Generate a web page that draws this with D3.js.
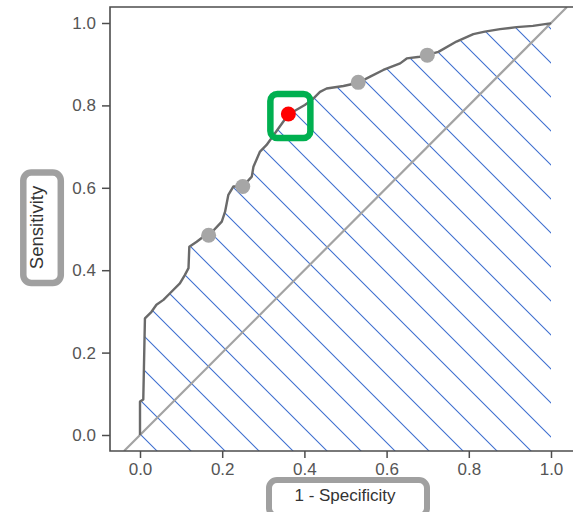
<!DOCTYPE html>
<html>
<head>
<meta charset="utf-8">
<script src="https://cdn.jsdelivr.net/npm/d3@7"></script>
<style>
    body { margin: 0; background: #fff; }
    svg { display: block; font-family: "Liberation Sans", Arial, sans-serif; }
</style>
</head>
<body>
<div id="chart"></div>
<script>
// ROC curve
var fpr = [0, 0, 0.008, 0.012, 0.028, 0.040, 0.057, 0.073, 0.097, 0.109, 0.118, 0.120, 0.138, 0.154, 0.169,
    0.199, 0.207, 0.215, 0.227, 0.250, 0.272, 0.276, 0.292, 0.308, 0.361, 0.401, 0.418, 0.438, 0.454,
    0.495, 0.531, 0.560, 0.592, 0.633, 0.649, 0.681, 0.697, 0.726, 0.770, 0.811, 0.839, 0.876, 0.916,
    0.956, 0.998, 1];
var tpr = [0, 0.081, 0.086, 0.283, 0.299, 0.316, 0.328, 0.344, 0.368, 0.388, 0.405, 0.457, 0.469, 0.481, 0.486,
    0.518, 0.542, 0.583, 0.603, 0.603, 0.627, 0.651, 0.688, 0.704, 0.778, 0.801, 0.813, 0.833, 0.841,
    0.847, 0.855, 0.870, 0.886, 0.902, 0.914, 0.918, 0.922, 0.930, 0.955, 0.973, 0.979, 0.985, 0.990,
    0.993, 0.999, 1];

// marked cut-off points
var pointX = [0.167, 0.250, 0.531, 0.699];
var pointY = [0.485, 0.603, 0.856, 0.922];
var bestX = 0.361;
var bestY = 0.779;

var xTicks = [0, 0.2, 0.4, 0.6, 0.8, 1.0];
var yTicks = [0, 0.2, 0.4, 0.6, 0.8, 1.0];

var width = 573,
    height = 512,
    frameLeft = 110,
    frameTop = 7,
    frameBottom = 451,
    frameRight = 620;

var x = d3.scaleLinear().domain([0, 1]).range([140, 551]);
var y = d3.scaleLinear().domain([0, 1]).range([435, 23]);

var yMin = y.invert(frameBottom),
    yMax = y.invert(frameTop);

var curve = fpr.map(function (d, i) {
    return [d, tpr[i]];
});

var svg = d3.select("#chart").append("svg")
    .attr("width", width)
    .attr("height", height);

var defs = svg.append("defs");

defs.append("clipPath")
    .attr("id", "plotClip")
    .append("rect")
    .attr("x", frameLeft)
    .attr("y", frameTop)
    .attr("width", frameRight - frameLeft)
    .attr("height", frameBottom - frameTop);

// area under the curve, closed down to the x axis line
var areaPts = curve.concat([[1, yMin], [0, yMin]]);
defs.append("clipPath")
    .attr("id", "aucClip")
    .append("path")
    .attr("d", d3.line()
        .x(function (d) { return x(d[0]); })
        .y(function (d) { return y(d[1]); })(areaPts) + "Z");

// diagonal hatching
var hatch = defs.append("pattern")
    .attr("id", "hatch")
    .attr("patternUnits", "userSpaceOnUse")
    .attr("x", 0)
    .attr("y", 22)
    .attr("width", 34)
    .attr("height", 34);
hatch.append("path")
    .attr("d", "M-2,-2L36,36M-2,32L2,36M32,-2L36,2")
    .attr("stroke", "#3f6fd0")
    .attr("stroke-width", 1.1)
    .attr("fill", "none");

var plot = svg.append("g")
    .attr("clip-path", "url(#plotClip)");

plot.append("rect")
    .attr("clip-path", "url(#aucClip)")
    .attr("x", frameLeft)
    .attr("y", frameTop)
    .attr("width", frameRight - frameLeft)
    .attr("height", frameBottom - frameTop)
    .attr("fill", "url(#hatch)");

//reference diagonal
plot.append("line")
    .attr("x1", x(yMin))
    .attr("y1", y(yMin))
    .attr("x2", x(yMax))
    .attr("y2", y(yMax))
    .attr("stroke", "#a3a3a3")
    .attr("stroke-width", 2.2);

//roc curve
plot.append("path")
    .datum(curve)
    .attr("d", d3.line()
        .x(function (d) { return x(d[0]); })
        .y(function (d) { return y(d[1]); }))
    .attr("fill", "none")
    .attr("stroke", "#6a6a6a")
    .attr("stroke-width", 2.4)
    .attr("stroke-linejoin", "round");

// frame: left, top and bottom
svg.append("path")
    .attr("d", "M" + frameRight + "," + frameTop + "H" + frameLeft + "V" + frameBottom + "H" + frameRight)
    .attr("fill", "none")
    .attr("stroke", "#4d4d4d")
    .attr("stroke-width", 1.6);

// axes
var xAxis = d3.axisBottom(x)
    .tickValues(xTicks)
    .tickSize(7)
    .tickPadding(5)
    .tickFormat(d3.format(".1f"));
var yAxis = d3.axisLeft(y)
    .tickValues(yTicks)
    .tickSize(8)
    .tickPadding(6)
    .tickFormat(d3.format(".1f"));

var gx = svg.append("g")
    .attr("transform", "translate(0," + frameBottom + ")")
    .call(xAxis);
var gy = svg.append("g")
    .attr("transform", "translate(" + frameLeft + ",0)")
    .call(yAxis);

[gx, gy].forEach(function (g) {
    g.select(".domain").remove();
    g.selectAll(".tick line")
        .attr("stroke", "#4d4d4d")
        .attr("stroke-width", 1.5);
    g.selectAll(".tick text")
        .attr("fill", "#555")
        .attr("font-size", "17px")
        .attr("font-family", "Liberation Sans, Arial, sans-serif");
});

//cut-off points
svg.selectAll(".cutPoint")
    .data(pointX)
    .enter()
    .append("circle")
    .attr("class", "cutPoint")
    .attr("cx", function (d) { return x(d); })
    .attr("cy", function (d, i) { return y(pointY[i]); })
    .attr("r", 7.5)
    .attr("fill", "#a6a6a6");

svg.append("circle")
    .attr("cx", x(bestX))
    .attr("cy", y(bestY))
    .attr("r", 7.5)
    .attr("fill", "#ff0000");

// green highlight box around the best point
svg.append("rect")
    .attr("x", x(bestX) - 18)
    .attr("y", y(bestY) - 20)
    .attr("width", 40)
    .attr("height", 44)
    .attr("rx", 7)
    .attr("fill", "none")
    .attr("stroke", "#00b050")
    .attr("stroke-width", 6.5);

// axis titles in grey boxes
svg.append("rect")
    .attr("x", 269)
    .attr("y", 480)
    .attr("width", 158)
    .attr("height", 36)
    .attr("rx", 8)
    .attr("fill", "#fff")
    .attr("stroke", "#a0a0a0")
    .attr("stroke-width", 6);
svg.append("text")
    .attr("x", 345)
    .attr("y", 501)
    .attr("text-anchor", "middle")
    .attr("font-size", "17px")
    .attr("fill", "#333")
    .text("1 - Specificity");

svg.append("rect")
    .attr("x", 23.3)
    .attr("y", 172.5)
    .attr("width", 37.5)
    .attr("height", 110.5)
    .attr("rx", 8)
    .attr("fill", "#fff")
    .attr("stroke", "#a0a0a0")
    .attr("stroke-width", 6.5);
svg.append("text")
    .attr("transform", "translate(43,227.5) rotate(-90)")
    .attr("text-anchor", "middle")
    .attr("font-size", "18.5px")
    .attr("fill", "#333")
    .text("Sensitivity");
</script>
</body>
</html>
